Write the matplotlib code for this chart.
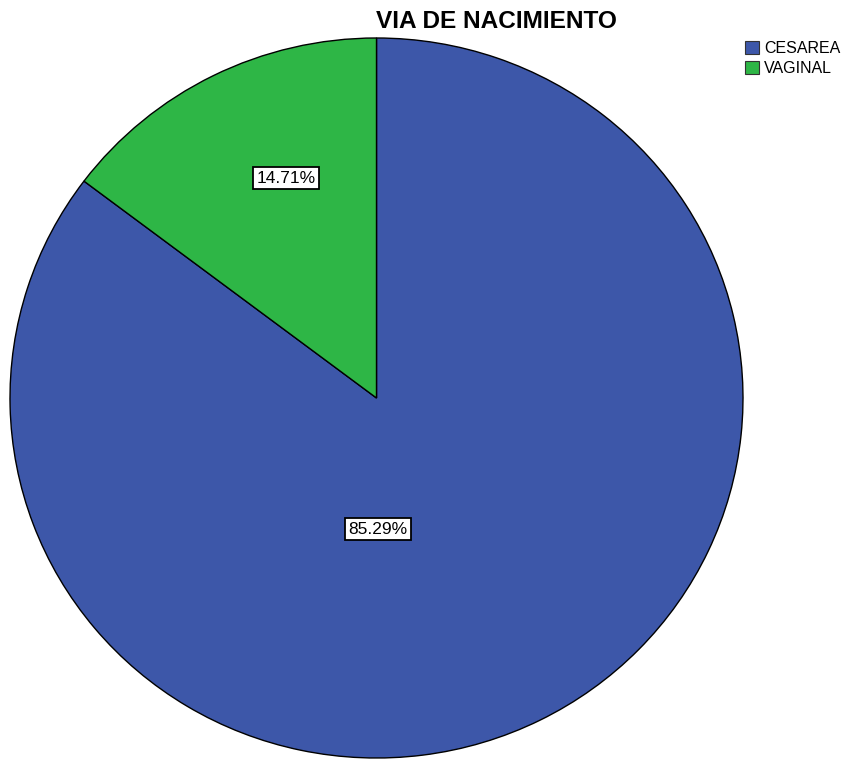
import matplotlib.pyplot as plt
from matplotlib.patches import Patch

plt.rcParams['font.family'] = ['Liberation Sans', 'DejaVu Sans']

# data
categories = ['CESAREA', 'VAGINAL']
percentages = [85.29, 14.71]
colors = ['#3D57A9', '#2EB646']

# label spots (data coords, pie radius = 1), as SPSS places them
label_pos = [(0.003, -0.364), (-0.247, 0.611)]

fig = plt.figure(figsize=(8.46, 7.59), dpi=100)
ax = fig.add_axes([10 / 846, 1 / 759, 733 / 846, 720 / 759])

wedges, _ = ax.pie(percentages, colors=colors, startangle=90, counterclock=False,
                   radius=1, wedgeprops=dict(edgecolor='black', linewidth=1.0))
ax.set_aspect('auto')
ax.set_xlim(-1, 1)
ax.set_ylim(-1, 1)

for (x, y), p in zip(label_pos, percentages):
    ax.text(x, y, f'{p:.2f}%', ha='center', va='center', fontsize=12.5,
            bbox=dict(boxstyle='square,pad=0.2', facecolor='white',
                      edgecolor='black', linewidth=1.3))

fig.text(496 / 846, 1 - 21 / 759, 'VIA DE NACIMIENTO', ha='center', va='center',
         fontsize=17.6, fontweight='bold')

handles = [Patch(facecolor=c, edgecolor='#333333', linewidth=0.8) for c in colors]
fig.legend(handles, categories, loc='upper left', bbox_to_anchor=(745 / 846, 1 - 41 / 759),
           frameon=False, fontsize=11.5, handlelength=0.85, handleheight=0.85,
           handletextpad=0.35, labelspacing=0.3, borderpad=0, borderaxespad=0)

fig.savefig('out.png', dpi=100)
